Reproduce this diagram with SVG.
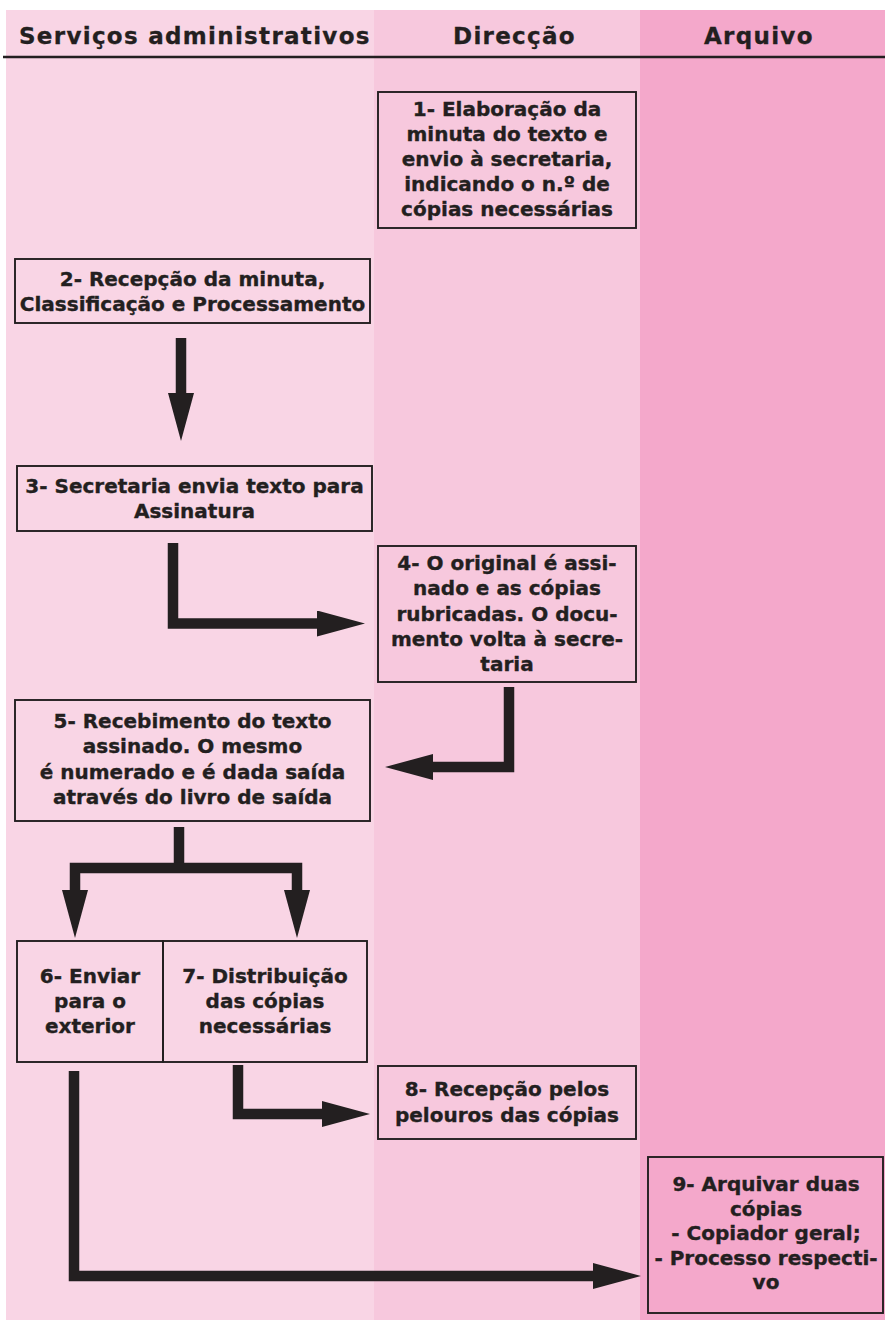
<svg xmlns="http://www.w3.org/2000/svg" width="885" height="1321" viewBox="0 0 885 1321">
<style>
  .hdr { font-family: "DejaVu Sans", Verdana, sans-serif; font-weight: bold; font-size: 23px; letter-spacing: 1.3px; fill: #231F20; stroke: #231F20; stroke-width: 0.3; }
  .box { fill: none; stroke: #231F20; stroke-width: 1.9; }
  .lbl { font-family: "DejaVu Sans", Verdana, sans-serif; font-weight: bold; font-size: 20px; fill: #231F20; stroke: #231F20; stroke-width: 0.35; text-anchor: middle; }
  .conn { fill: none; stroke: #231F20; stroke-width: 10.5; stroke-linejoin: miter; stroke-linecap: butt; }
</style>
<defs>
  <marker id="head" markerUnits="userSpaceOnUse" viewBox="0 0 48 26" refX="2" refY="13" markerWidth="48" markerHeight="26" orient="auto">
    <path d="M0,0 L48,13 L0,26 Z" fill="#231F20"/>
  </marker>
</defs>
<rect x="0" y="0" width="885" height="1321" fill="#FFFFFF"/>
<g id="lanes">
  <rect x="6" y="10" width="368" height="1310" fill="#F9D5E5"/>
  <rect x="374" y="10" width="266" height="1310" fill="#F7C8DD"/>
  <rect x="640" y="10" width="245" height="1310" fill="#F4A8CB"/>
  <line x1="3" y1="57" x2="885" y2="57" stroke="#231F20" stroke-width="2.6"/>
  <text class="hdr" x="19" y="44">Serviços administrativos</text>
  <text class="hdr" x="453" y="44">Direcção</text>
  <text class="hdr" x="704" y="44">Arquivo</text>
</g>
<g id="connectors">
  <path class="conn" d="M181,338 V395" marker-end="url(#head)"/>
  <path class="conn" d="M173,543 V623.5 H319" marker-end="url(#head)"/>
  <path class="conn" d="M509,687 V767 H431" marker-end="url(#head)"/>
  <path class="conn" d="M179,827 V868"/>
  <path class="conn" d="M75,893 V868 H297 V893"/>
  <path class="conn" d="M75,890 V892" marker-end="url(#head)"/>
  <path class="conn" d="M297,890 V892" marker-end="url(#head)"/>
  <path class="conn" d="M238,1065 V1114 H324" marker-end="url(#head)"/>
  <path class="conn" d="M74,1071 V1276 H595" marker-end="url(#head)"/>
</g>
<g id="n1">
  <rect class="box" x="378" y="92" width="258" height="136"/>
  <text class="lbl" x="507" y="116">1- Elaboração da</text>
  <text class="lbl" x="507" y="141">minuta do texto e</text>
  <text class="lbl" x="507" y="166">envio à secretaria,</text>
  <text class="lbl" x="507" y="191">indicando o n.º de</text>
  <text class="lbl" x="507" y="216">cópias necessárias</text>
</g>
<g id="n2">
  <rect class="box" x="15" y="259" width="355" height="64"/>
  <text class="lbl" x="192.5" y="285.5">2- Recepção da minuta,</text>
  <text class="lbl" x="192.5" y="310.5">Classificação e Processamento</text>
</g>
<g id="n3">
  <rect class="box" x="17" y="466" width="355" height="65"/>
  <text class="lbl" x="194.5" y="492.5">3- Secretaria envia texto para</text>
  <text class="lbl" x="194.5" y="518">Assinatura</text>
</g>
<g id="n4">
  <rect class="box" x="378" y="546" width="258" height="136"/>
  <text class="lbl" x="507" y="570">4- O original é assi-</text>
  <text class="lbl" x="507" y="595">nado e as cópias</text>
  <text class="lbl" x="507" y="620.5">rubricadas. O docu-</text>
  <text class="lbl" x="507" y="646">mento volta à secre-</text>
  <text class="lbl" x="507" y="671">taria</text>
</g>
<g id="n5">
  <rect class="box" x="15" y="700" width="355" height="121"/>
  <text class="lbl" x="192.5" y="727.5">5- Recebimento do texto</text>
  <text class="lbl" x="192.5" y="753">assinado. O mesmo</text>
  <text class="lbl" x="192.5" y="778.5">é numerado e é dada saída</text>
  <text class="lbl" x="192.5" y="804">através do livro de saída</text>
</g>
<g id="n6">
  <rect class="box" x="17" y="941" width="146" height="121"/>
  <text class="lbl" x="90" y="983">6- Enviar</text>
  <text class="lbl" x="90" y="1008">para o</text>
  <text class="lbl" x="90" y="1033">exterior</text>
</g>
<g id="n7">
  <rect class="box" x="163" y="941" width="204" height="121"/>
  <text class="lbl" x="265" y="983">7- Distribuição</text>
  <text class="lbl" x="265" y="1008">das cópias</text>
  <text class="lbl" x="265" y="1033">necessárias</text>
</g>
<g id="n8">
  <rect class="box" x="378" y="1066" width="258" height="73"/>
  <text class="lbl" x="507" y="1096">8- Recepção pelos</text>
  <text class="lbl" x="507" y="1122">pelouros das cópias</text>
</g>
<g id="n9">
  <rect class="box" x="648" y="1157" width="235" height="156"/>
  <text class="lbl" x="766" y="1191">9- Arquivar duas</text>
  <text class="lbl" x="766" y="1215.5">cópias</text>
  <text class="lbl" x="766" y="1240">- Copiador geral;</text>
  <text class="lbl" x="766" y="1264.5">- Processo respecti-</text>
  <text class="lbl" x="766" y="1289">vo</text>
</g>
</svg>
